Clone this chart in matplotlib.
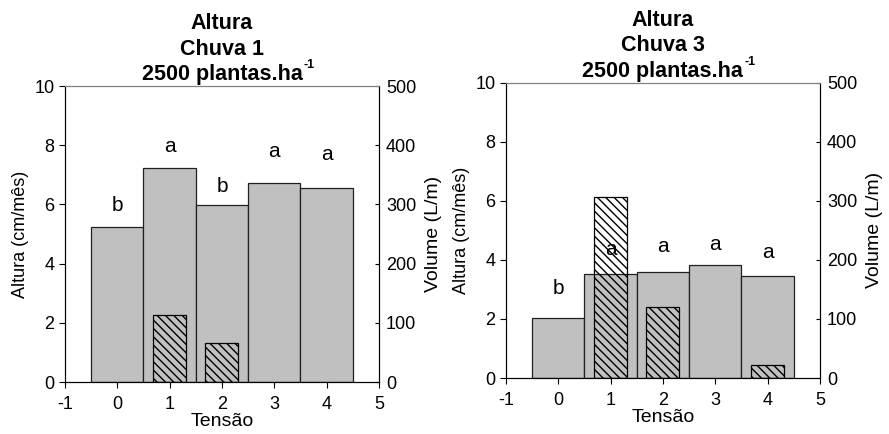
import numpy as np
import matplotlib.pyplot as plt

plt.rcParams['font.family'] = ['Liberation Sans', 'DejaVu Sans']
plt.rcParams['axes.unicode_minus'] = False

tensao = [0, 1, 2, 3, 4]

# Chuva 1
altura_c1 = [5.23, 7.23, 5.99, 6.71, 6.54]
letras_c1 = ["b", "a", "b", "a", "a"]
letras_y_c1 = [5.97, 7.94, 6.62, 7.79, 7.69]
vol_x_c1 = [1, 2]
vol_c1 = [114, 66]

# Chuva 3
altura_c3 = [2.03, 3.52, 3.58, 3.83, 3.47]
letras_c3 = ["b", "a", "a", "a", "a"]
letras_y_c3 = [3.04, 4.36, 4.45, 4.53, 4.26]
vol_x_c3 = [1, 2, 4]
vol_c3 = [306, 120, 22]

panels = [
    ("Chuva 1", altura_c1, letras_c1, letras_y_c1, vol_x_c1, vol_c1,
     [0.0731, 0.1198, 0.3532, 0.682]),
    ("Chuva 3", altura_c3, letras_c3, letras_y_c3, vol_x_c3, vol_c3,
     [0.5689, 0.129, 0.3535, 0.6804]),
]

fig = plt.figure(figsize=(8.89, 4.34), dpi=100)

for chuva, alt, letras, ly, vx, vol, rect in panels:
    ax = fig.add_axes(rect)
    ax.bar(tensao, alt, width=1.0, color="#c0c0c0", edgecolor="#202020",
           linewidth=0.9, zorder=2)
    ax.set_xlim(-1, 5)
    ax.set_ylim(0, 10)
    ax.set_xticks(range(-1, 6))
    ax.set_yticks(range(0, 11, 2))
    ax.tick_params(direction="out", length=4, labelsize=13, colors="black")
    ax.tick_params(axis="x", pad=6)
    ax.spines["top"].set_color("#808080")
    ax.spines["left"].set_color("#404040")
    ax.set_xlabel("Tensão", fontsize=14, labelpad=0)
    ax.set_ylabel("Altura (cm/mês)", fontsize=13, labelpad=4)
    title = ax.set_title(f"Altura\n{chuva}\n2500 plantas.ha",
                         fontsize=15.5, fontweight="bold", pad=4,
                         linespacing=1.3)
    ax.annotate("-1", xy=(1, 0.2), xycoords=title, xytext=(0.5, 0),
                textcoords="offset points", fontsize=9,
                fontweight="bold", ha="left", va="bottom")

    ax2 = ax.twinx()
    ax2.bar(vx, vol, width=0.63, fill=False, edgecolor="black",
            hatch="\\\\\\\\", linewidth=0.9)
    ax2.set_ylim(0, 500)
    ax2.set_yticks(range(0, 501, 100))
    ax2.tick_params(direction="in", length=3, labelsize=13, pad=5)
    ax2.set_ylabel("Volume (L/m)", fontsize=14, labelpad=6)
    ax2.spines["top"].set_color("#808080")

    for x, s, y in zip(tensao, letras, ly):
        ax2.text(x, y, s, transform=ax.transData, ha="center", va="center",
                 fontsize=15)

fig.savefig("out.png", dpi=100)
